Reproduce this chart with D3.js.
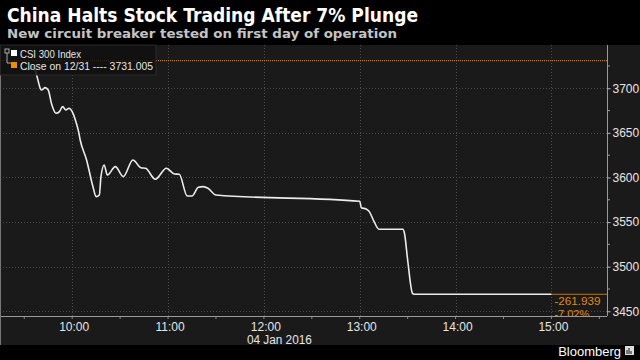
<!DOCTYPE html>
<html><head><meta charset="utf-8">
<script src="https://cdn.jsdelivr.net/npm/d3@7"></script>
<style>
html,body{margin:0;padding:0;background:#000;}
svg{display:block;}
</style></head>
<body>
<svg id="chart" width="640" height="360"></svg>
<script>
// ---- data ----
const title = "China Halts Stock Trading After 7% Plunge";
const subtitle = "New circuit breaker tested on first day of operation";
const seriesName = "CSI 300 Index";
const prevCloseLabel = "Close on 12/31 ---- 3731.005";
const prevClose = 3731.005;
const changeLabels = ["-261.939", "-7.02%"];
const dateLabel = "04 Jan 2016";
const times = ["9:30","9:32","9:34","9:36","9:38","9:40","9:41","9:43","9:45","9:47","9:50","9:52","9:54","9:56","9:58","10:00","10:02","10:04","10:05","10:09","10:13","10:15","10:17","10:18","10:20","10:22","10:27","10:32","10:38","10:43","10:46","10:52","10:59","11:04","11:07","11:12","11:15","11:19","11:22","11:25","11:30","13:00","13:01","13:04","13:06","13:09","13:12","13:27","13:28","13:30","13:33","13:34","15:00"];
const values = [3723,3720.5,3722.5,3724.2,3713,3700,3698,3700.7,3698,3683,3672,3673.8,3679.4,3675.7,3677.6,3673.8,3664.5,3651.3,3642,3619.6,3589.7,3578.5,3580.4,3600.9,3614,3602.8,3612.1,3600.9,3619.6,3611,3610.3,3598,3610.3,3603.9,3603.6,3579.3,3579.3,3589,3589.7,3587.9,3580.4,3573.3,3566,3564.7,3561.7,3550.5,3542,3542,3537.5,3507.5,3470.2,3469.07,3469.07];
const xTicks = ["10:00","11:00","12:00","13:00","14:00","15:00"];
const yTicks = [3450,3500,3550,3600,3650,3700];

// ---- setup ----
const W = 640, H = 360;
const plot = {left:0, right:607, top:45, bottom:316};
const FONT = "Liberation Sans, Arial, sans-serif";
const parse = s => { const [h,m] = s.split(":").map(Number); return new Date(2016,0,4,h,m); };
const data = times.map((t,i)=>({t:parse(t), v:values[i]}));

const x = d3.scaleTime()
  .domain([new Date(2016,0,4,9,14,48), new Date(2016,0,4,15,34,48)])
  .range([plot.left, plot.right]);
const y = d3.scaleLinear().domain([3444.7, 3748.5]).range([plot.bottom, plot.top]);

const svg = d3.select("#chart");
svg.append("rect").attr("width",W).attr("height",H).attr("fill","#000");
svg.append("rect").attr("x",0).attr("y",plot.top).attr("width",W).attr("height",345-plot.top).attr("fill","#1a1a1a");

const defs = svg.append("defs");
defs.append("clipPath").attr("id","clip").append("rect")
  .attr("x",plot.left).attr("y",plot.top).attr("width",plot.right-plot.left).attr("height",plot.bottom-plot.top);

// gridlines
const grid = svg.append("g");
grid.selectAll("line.h").data(yTicks).join("line")
  .attr("x1",plot.left).attr("x2",plot.right)
  .attr("y1",d=>Math.round(y(d))+0.5).attr("y2",d=>Math.round(y(d))+0.5)
  .attr("stroke","#4a4a4a").attr("stroke-width",1).attr("stroke-dasharray","1,2");
grid.selectAll("line.v").data(xTicks.map(parse)).join("line")
  .attr("x1",d=>Math.round(x(d))+0.5).attr("x2",d=>Math.round(x(d))+0.5)
  .attr("y1",plot.top).attr("y2",plot.bottom)
  .attr("stroke","#4a4a4a").attr("stroke-width",1).attr("stroke-dasharray","1,2");

const clipped = svg.append("g").attr("clip-path","url(#clip)");

// previous close dotted line
clipped.append("line")
  .attr("x1",plot.left).attr("x2",plot.right)
  .attr("y1",y(prevClose)).attr("y2",y(prevClose))
  .attr("stroke","#c07812").attr("stroke-width",1.2).attr("stroke-dasharray","1,1");

// last value marker line
const last = data[data.length-1];
clipped.append("line")
  .attr("x1",x(last.t)).attr("x2",plot.right)
  .attr("y1",y(last.v)).attr("y2",y(last.v))
  .attr("stroke","#c07812").attr("stroke-width",1);

// price line
const line = d3.line().x(d=>x(d.t)).y(d=>y(d.v)).curve(d3.curveMonotoneX);
clipped.append("path").datum(data).attr("d",line)
  .attr("fill","none").attr("stroke","#ececec").attr("stroke-width",1.6);

// change labels
clipped.selectAll("text.chg").data(changeLabels).join("text")
  .attr("x",x(last.t)+3).attr("y",(d,i)=>y(last.v)+11+i*12.5)
  .attr("fill","#e08a12").attr("font-family",FONT)
  .attr("font-size",11).attr("textLength",(d,i)=>i===0?46:null)
  .attr("lengthAdjust","spacingAndGlyphs").text(d=>d);

// axes
const yAxis = d3.axisRight(y).tickValues(yTicks).tickSize(3).tickFormat(d3.format("d"));
const gy = svg.append("g").attr("transform",`translate(${plot.right+0.5},0)`).call(yAxis);
gy.select(".domain").attr("stroke","#9a9a9a").attr("d",`M0,${plot.top}V${plot.bottom}`);
gy.selectAll(".tick line").attr("stroke","#bbb");
gy.selectAll(".tick text").attr("fill","#e6e6e6").attr("font-size",12)
  .attr("font-family",FONT).attr("x",5);
svg.append("g").selectAll("line").data(d3.range(3475,3750,50)).join("line")
  .attr("x1",plot.right).attr("x2",plot.right+3)
  .attr("y1",d=>y(d)).attr("y2",d=>y(d)).attr("stroke","#999");

const fmt = d3.timeFormat("%H:%M");
const xAxis = d3.axisBottom(x).tickValues(xTicks.map(parse)).tickSize(0).tickFormat(fmt);
const gx = svg.append("g").attr("transform",`translate(0,${plot.bottom+0.5})`).call(xAxis);
gx.select(".domain").attr("stroke","#9a9a9a").attr("d",`M${plot.left},0H${plot.right}`);
gx.selectAll(".tick text").attr("fill","#e6e6e6").attr("font-size",12)
  .attr("font-family",FONT).attr("dy",null).attr("y",14).attr("x",1.5);
const halfHours = d3.timeMinute.every(30).range(new Date(2016,0,4,9,30), new Date(2016,0,4,15,31));
svg.append("g").selectAll("line").data(halfHours).join("line")
  .attr("x1",d=>x(d)).attr("x2",d=>x(d))
  .attr("y1",plot.bottom+1).attr("y2",plot.bottom+3).attr("stroke","#888");
svg.append("line").attr("x1",0.5).attr("x2",0.5).attr("y1",plot.top).attr("y2",345).attr("stroke","#777");

svg.append("text").attr("x",x(parse("12:00"))-17).attr("y",344)
  .attr("fill","#e6e6e6").attr("font-size",12)
  .attr("font-family",FONT).attr("textLength",65).attr("lengthAdjust","spacingAndGlyphs").text(dateLabel);

// legend
const lg = svg.append("g");
lg.append("rect").attr("x",0).attr("y",plot.top).attr("width",156).attr("height",30)
  .attr("fill","#111").attr("fill-opacity",0.85).attr("stroke","#2a2a2a");
lg.append("rect").attr("x",5).attr("y",49).attr("width",4).attr("height",4).attr("fill","none").attr("stroke","#aaa");
lg.append("path").attr("d","M7,53V63H12").attr("fill","none").attr("stroke","#aaa");
lg.append("rect").attr("x",11).attr("y",50).attr("width",6).attr("height",6).attr("fill","#fff");
lg.append("rect").attr("x",11).attr("y",62).attr("width",6).attr("height",6).attr("fill","#f08c00");
lg.append("text").attr("x",20).attr("y",58).attr("fill","#e6e6e6").attr("font-size",10.5)
  .attr("font-family",FONT).attr("textLength",61).attr("lengthAdjust","spacingAndGlyphs").text(seriesName);
lg.append("text").attr("x",20).attr("y",69.5).attr("fill","#e6e6e6").attr("font-size",10.5)
  .attr("font-family",FONT).attr("textLength",133).attr("lengthAdjust","spacingAndGlyphs").text(prevCloseLabel);

// titles
svg.append("text").attr("x",7).attr("y",22).attr("fill","#fff")
  .attr("font-family","DejaVu Sans, Verdana, sans-serif").attr("font-weight","bold")
  .attr("font-size",19).attr("textLength",411).attr("lengthAdjust","spacingAndGlyphs").text(title);
svg.append("text").attr("x",7).attr("y",38).attr("fill","#c4c4c4")
  .attr("font-family","DejaVu Sans, Verdana, sans-serif").attr("font-weight","bold")
  .attr("font-size",13).attr("textLength",390).attr("lengthAdjust","spacingAndGlyphs").text(subtitle);

// Bloomberg credit
svg.append("text").attr("x",621).attr("y",356).attr("text-anchor","end").attr("fill","#fff")
  .attr("font-family",FONT).attr("font-size",13).text("Bloomberg");
svg.append("rect").attr("x",625).attr("y",346).attr("width",9).attr("height",9).attr("fill","#ddd");
svg.append("path").attr("d","M627,354V350M629,354V348M631,354V351").attr("stroke","#333").attr("stroke-width",1.2);
</script>
</body></html>
